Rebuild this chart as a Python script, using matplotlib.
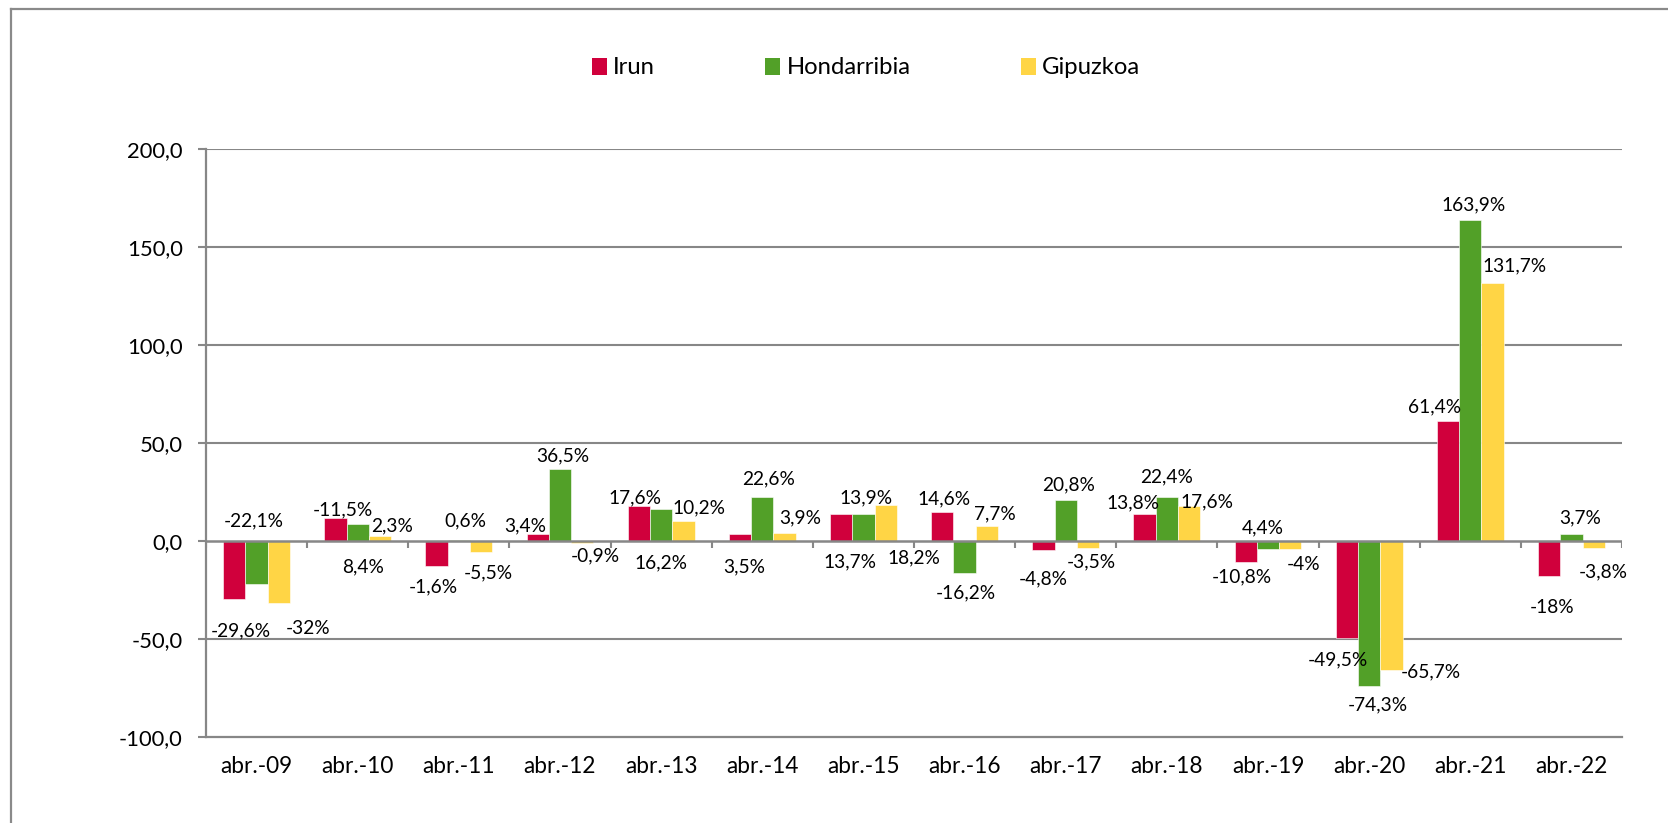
import matplotlib
matplotlib.use("Agg")
import matplotlib.pyplot as plt
from matplotlib.patches import Patch
from matplotlib.lines import Line2D
import numpy as np

plt.rcParams['font.family'] = ['Lato', 'DejaVu Sans']

# ---------------- data ----------------
categories = ["abr.-09", "abr.-10", "abr.-11", "abr.-12", "abr.-13", "abr.-14", "abr.-15",
              "abr.-16", "abr.-17", "abr.-18", "abr.-19", "abr.-20", "abr.-21", "abr.-22"]
series_names = ["Irun", "Hondarribia", "Gipuzkoa"]

irun = [-29.6, 11.5, -12.8, 3.4, 17.6, 3.5, 13.7, 14.6, -4.8, 13.8, -10.8, -49.5, 61.4, -18.0]
hondarribia = [-22.1, 8.4, 0.6, 36.5, 16.2, 22.6, 13.9, -16.2, 20.8, 22.4, -4.4, -74.3, 163.9, 3.7]
gipuzkoa = [-32.0, 2.3, -5.5, -0.9, 10.2, 3.9, 18.2, 7.7, -3.5, 17.6, -4.0, -65.7, 131.7, -3.8]

irun_labels = ["-29,6%", "-11,5%", "-1,6%", "3,4%", "17,6%", "3,5%", "13,7%", "14,6%",
               "-4,8%", "13,8%", "-10,8%", "-49,5%", "61,4%", "-18%"]
hondarribia_labels = ["-22,1%", "8,4%", "0,6%", "36,5%", "16,2%", "22,6%", "13,9%", "-16,2%",
                      "20,8%", "22,4%", "4,4%", "-74,3%", "163,9%", "3,7%"]
gipuzkoa_labels = ["-32%", "2,3%", "-5,5%", "-0,9%", "10,2%", "3,9%", "18,2%", "7,7%",
                   "-3,5%", "17,6%", "-4%", "-65,7%", "131,7%", "-3,8%"]

y_ticks = [-100, -50, 0, 50, 100, 150, 200]

# ---------------- label layout (offset from category centre, y in data units) -------------
irun_lab_dx = [-0.16, -0.15, -0.25, -0.34, -0.26, -0.18, -0.13, -0.20, -0.22, -0.34, -0.26, -0.31, -0.35, -0.19]
irun_lab_y = [-45.9, 15.8, -23.5, 7.5, 21.9, -13.4, -10.8, 21.4, -19.2, 19.2, -18.6, -60.7, 68.5, -33.8]
hond_lab_dx = [-0.03, 0.05, 0.06, 0.03, 0.0, 0.06, 0.03, 0.01, 0.03, 0.0, -0.05, 0.09, 0.03, 0.09]
hond_lab_y = [10.3, -13.4, 10.3, 43.2, -11.5, 31.7, 21.9, -26.6, 28.3, 32.7, 6.8, -83.6, 171.6, 11.7]
gip_lab_dx = [0.51, 0.34, 0.29, 0.35, 0.37, 0.38, 0.50, 0.30, 0.25, 0.40, 0.35, 0.61, 0.435, 0.31]
gip_lab_y = [-44.9, 7.5, -16.3, -7.7, 16.8, 11.7, -8.9, 13.7, -10.8, 20.0, -12.2, -67.0, 140.5, -15.8]

colors = ["#D0003C", "#52A028", "#FFD545"]
grid_color = "#878787"

# ---------------- figure ----------------
W, H = 1668, 823
fig = plt.figure(figsize=(W / 100, H / 100), dpi=100)
ax = fig.add_axes([206 / W, 1 - 736.7 / H, (1622 - 206) / W, (736.7 - 149) / H])

x = np.arange(len(categories))
bw = 0.22
all_vals = [irun, hondarribia, gipuzkoa]
all_labels = [irun_labels, hondarribia_labels, gipuzkoa_labels]
all_dx = [irun_lab_dx, hond_lab_dx, gip_lab_dx]
all_ly = [irun_lab_y, hond_lab_y, gip_lab_y]

for k, (vals, c) in enumerate(zip(all_vals, colors)):
    ax.bar(x + (k - 1) * bw, vals, width=bw, color=c, edgecolor="white", linewidth=0.4,
           zorder=2, label=series_names[k])
    for i in range(len(categories)):
        ax.text(x[i] + all_dx[k][i], all_ly[k][i], all_labels[k][i], ha="center", va="center",
                fontsize=13.8, color="black", zorder=5)

ax.set_xlim(-0.5, len(categories) - 0.5)
ax.set_ylim(-100, 200)

# gridlines
for yv in y_ticks:
    if yv not in (0, -100):
        ax.axhline(yv, color=grid_color, lw=1.5, zorder=1)
# zero line on top of bars with category-boundary ticks
ax.axhline(0, color=grid_color, lw=1.8, zorder=4)
bounds = np.arange(len(categories) + 1) - 0.5
ax.vlines(bounds, 0, -3.6, color=grid_color, lw=1.5, zorder=4)

for s in ["top", "right"]:
    ax.spines[s].set_visible(False)
ax.spines["left"].set_color(grid_color)
ax.spines["left"].set_linewidth(1.6)
ax.spines["bottom"].set_color(grid_color)
ax.spines["bottom"].set_linewidth(1.6)
ax.spines["left"].set_zorder(4)

ax.set_yticks(y_ticks)
ax.set_yticklabels([f"{v:.1f}".replace(".", ",") for v in y_ticks], fontsize=15.8)
ax.tick_params(axis="y", length=5.8, width=1.5, color=grid_color, pad=11)
ax.set_xticks(x)
ax.set_xticklabels(categories, fontsize=16.3)
ax.tick_params(axis="x", length=0, pad=14)

# legend
handles = [Patch(facecolor=c, edgecolor="none") for c in colors]
fig.legend(handles, series_names, loc="center", bbox_to_anchor=(866 / W, 1 - 68 / H),
           ncol=3, frameon=False, fontsize=17.2, handlelength=0.63, handleheight=0.72,
           handletextpad=0.27, columnspacing=4.6)

# outer chart border (top and left visible)
fig.add_artist(Line2D([11 / W, 1.0], [1 - 9 / H, 1 - 9 / H], transform=fig.transFigure,
                      color="#8a8a8a", lw=1.6))
fig.add_artist(Line2D([11 / W, 11 / W], [0.0, 1 - 9 / H], transform=fig.transFigure,
                      color="#8a8a8a", lw=1.6))

fig.savefig("out.png", dpi=100)
